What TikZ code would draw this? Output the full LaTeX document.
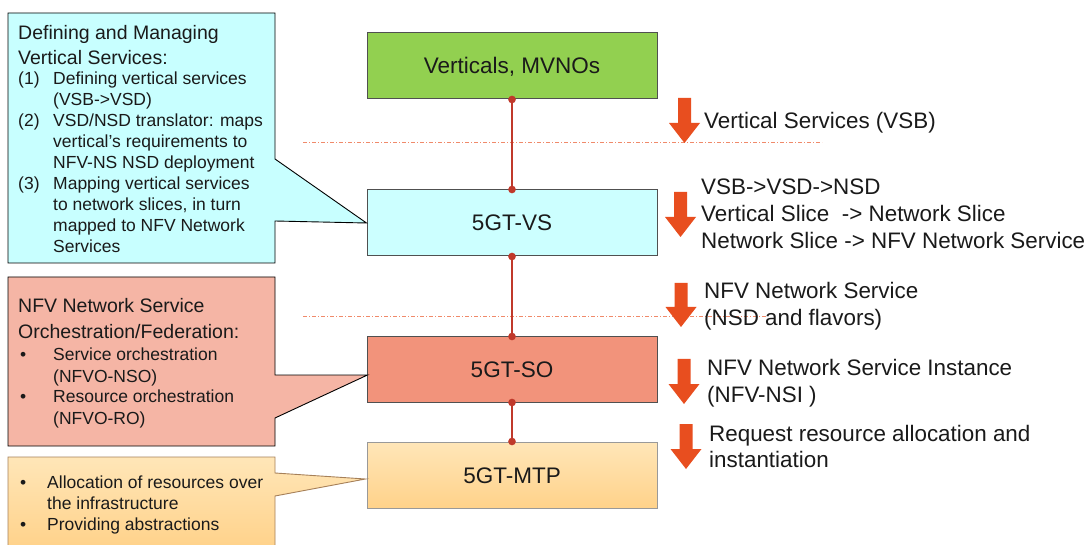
\documentclass[tikz,border=0pt]{standalone}
\usepackage{fontspec}
\setmainfont{Liberation Sans}
\usepackage{array}
\usetikzlibrary{arrows.meta,calc}
\definecolor{cgreen}{HTML}{92D050}
\definecolor{ccyan}{HTML}{CCFFFF}
\definecolor{ccyancall}{HTML}{C8FFFF}
\definecolor{csalmon}{HTML}{F2937B}
\definecolor{csalmoncall}{HTML}{F5B5A5}
\definecolor{corangetop}{HTML}{FFE6B8}
\definecolor{corangebot}{HTML}{FFD28A}
\definecolor{cconn}{HTML}{C0392B}
\definecolor{carrow}{HTML}{E84E1F}
\definecolor{cdash}{HTML}{F08A6A}
\definecolor{cborder}{HTML}{505050}
\definecolor{ctext}{HTML}{1A1A1A}
\tikzset{
  mainbox/.style={draw=cborder, line width=1pt, minimum width=290pt, minimum height=66pt,
    inner sep=0pt, text height=16pt, text depth=0pt, font=\fontsize{22.5}{27}\selectfont, text=ctext},
  conn/.style={draw=cconn, line width=1.8pt, {Circle[length=7.5pt]}-{Circle[length=7.5pt]},
    shorten <=-3.75pt, shorten >=-3.75pt},
  sepline/.style={draw=cdash, line width=0.7pt, dash pattern=on 4pt off 2pt on 1pt off 2pt},
  callout/.style={draw=black, line width=0.9pt},
  headtxt/.style={anchor=base west, inner sep=0pt, font=\fontsize{19.5}{25}\selectfont, text=ctext},
  listtxt/.style={anchor=base west, inner sep=0pt, font=\fontsize{17.5}{21}\selectfont, text=ctext},
  righttxt/.style={anchor=base west, inner sep=0pt, font=\fontsize{22.4}{26.7}\selectfont, text=ctext},
}
\newcommand\blockarr[4]{% cx, top, headstart, tip
  \fill[carrow] (#1-6.5,#2) -- (#1+6.5,#2) -- (#1+6.5,#3) -- (#1+15.5,#3) -- (#1,#4)
    -- (#1-15.5,#3) -- (#1-6.5,#3) -- cycle;}
\begin{document}
\begin{tikzpicture}[x=1pt,y=-1pt]
\useasboundingbox (0,0) rectangle (1090,545);
\fill[white] (0,0) rectangle (1090,545);

% separator lines
\draw[sepline] (303,142) -- (822,142);
\draw[sepline] (303,316) -- (767,316);

% main boxes
\node[mainbox, fill=cgreen] (vert) at (512,66) {Verticals, MVNOs};
\node[mainbox, fill=ccyan] (vs) at (512,223) {5GT-VS};
\node[mainbox, fill=csalmon, minimum height=65pt] (so) at (512,369.5) {5GT-SO};
\node[mainbox, draw=gray!80, top color=corangetop, bottom color=corangebot] (mtp) at (512,475) {5GT-MTP};

% connectors
\draw[conn] (vert.south) -- (vs.north);
\draw[conn] (vs.south) -- (so.north);
\draw[conn] (so.south) -- (mtp.north);

% callouts
\draw[callout, fill=ccyancall] (8,13) -- (275,13) -- (275,159) -- (vs.west) -- (275,221)
  -- (275,263) -- (8,263) -- cycle;
\draw[callout, fill=csalmoncall] (8,277) -- (275,277) -- (275,375) -- ($(so.west)+(1,5.5)$)
  -- (275,418) -- (275,446) -- (8,446) -- cycle;
\path[draw=gray!70!orange, line width=0.9pt, top color=corangetop, bottom color=corangebot]
  (8,457) -- (275,457) -- (275,473) -- ($(mtp.west)+(-1,4)$) -- (275,496) -- (275,548)
  -- (8,548) -- cycle;

% callout texts
\node[headtxt] (cyanhead) at (18,40) {\begin{tabular}[t]{@{}l@{}}Defining and Managing\\Vertical Services:\end{tabular}};
\node[listtxt] (cyanlist) at (18,85) {\begin{tabular}[t]{@{}w{l}{35pt}@{}l@{}}
(1) & Defining vertical services\\
    & (VSB->VSD)\\
(2) & VSD/NSD translator: maps\\
    & vertical’s requirements to\\
    & NFV-NS NSD deployment\\
(3) & Mapping vertical services\\
    & to network slices, in turn\\
    & mapped to NFV Network\\
    & Services
\end{tabular}};

\node[headtxt] (salmonhead) at (18,313) {\begin{tabular}[t]{@{}l@{}}NFV Network Service\\Orchestration/Federation:\end{tabular}};
\node[listtxt] (salmonlist) at (18,361) {\begin{tabular}[t]{@{}w{l}{35pt}@{}l@{}}
\hspace{2pt}• & Service orchestration\\
  & (NFVO-NSO)\\
\hspace{2pt}• & Resource orchestration\\
  & (NFVO-RO)
\end{tabular}};

\node[listtxt] (orangelist) at (18,488) {\begin{tabular}[t]{@{}w{l}{29pt}@{}l@{}}
\hspace{2pt}• & Allocation of resources over\\
  & the infrastructure\\
\hspace{2pt}• & Providing abstractions
\end{tabular}};

% flow arrows
\blockarr{684.5}{98}{123}{143}
\blockarr{680.5}{192}{217}{237}
\blockarr{681}{283}{307}{327}
\blockarr{684}{359}{384}{404}
\blockarr{686}{424}{449}{469}

% right texts
\node[righttxt] (t1) at (704,129) {Vertical Services (VSB)};
\node[righttxt] (t2) at (701,195) {\begin{tabular}[t]{@{}l@{}}VSB->VSD->NSD\\Vertical Slice\ \ -> Network Slice\\Network Slice -> NFV Network Service\end{tabular}};
\node[righttxt] (t3) at (704,299) {\begin{tabular}[t]{@{}l@{}}NFV Network Service\\(NSD and flavors)\end{tabular}};
\node[righttxt] (t4) at (707,376) {\begin{tabular}[t]{@{}l@{}}NFV Network Service Instance\\(NFV-NSI )\end{tabular}};
\node[righttxt] (t5) at (709,441) {\begin{tabular}[t]{@{}l@{}}Request resource allocation and\\instantiation\end{tabular}};
\end{tikzpicture}
\end{document}
